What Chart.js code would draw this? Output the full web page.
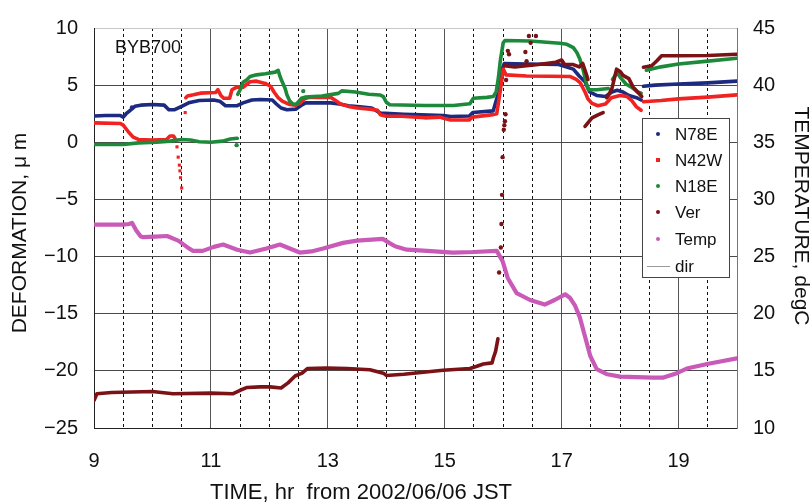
<!DOCTYPE html>
<html><head><meta charset="utf-8">
<script src="https://cdn.jsdelivr.net/npm/chart.js@4.4.1/dist/chart.umd.min.js"></script>
<style>html,body{margin:0;padding:0;background:#fff}#wrap{width:811px;height:503px}</style>
</head><body><div id="wrap"><canvas id="c" width="811" height="503"></canvas></div>
<script>
// ---------- text ----------
const chartTag = 'BYB700';
const xTitle = 'TIME, hr  from 2002/06/06 JST';
const yTitle = 'DEFORMATION, \u03bc m';
const y2Title = 'TEMPERATURE, degC';
const seriesNames = ['N78E', 'N42W', 'N18E', 'Ver', 'Temp', 'dir'];
const seriesColors = ['#1c2a80', '#f02222', '#1c8a3a', '#7a1216', '#c95ab8', '#9a9a9a'];
const xTickLabels = [9, 11, 13, 15, 17, 19];

// ---------- data: [time (hr), value] ----------
// N78E (µm)
const n78eA = [[9.0,2.3],[9.2,2.35],[9.45,2.35],[9.5,2.2],[9.55,2.5],[9.62,2.8],[9.7,3.15],[9.8,3.25],[10.0,3.3],[10.2,3.25],[10.28,2.85],[10.38,2.85],[10.5,3.15],[10.62,3.45],[10.8,3.65],[11.05,3.7],[11.15,3.6],[11.25,3.2],[11.45,3.2],[11.55,3.45],[11.7,3.7],[11.85,3.75],[12.05,3.7],[12.12,3.35],[12.2,3.0],[12.3,2.85],[12.45,2.9],[12.55,3.25],[12.62,3.45],[13.05,3.45],[13.2,3.35],[13.35,3.2],[13.55,3.1],[13.75,3.0],[13.9,2.55],[14.3,2.45],[14.6,2.4],[14.98,2.35],[15.1,2.25],[15.42,2.3],[15.48,2.6],[15.83,2.75],[15.9,4.0],[15.97,6.2],[16.02,6.9],[16.4,6.85],[16.95,6.8],[17.2,6.4],[17.3,5.8],[17.4,5.3],[17.48,4.4],[17.6,4.1],[17.75,4.0],[17.86,4.4],[17.95,4.55],[18.05,4.4],[18.15,4.1],[18.28,3.9],[18.36,3.7]];
const n78eB = [[18.4,4.9],[18.6,5.0],[19.0,5.1],[19.5,5.2],[20.0,5.35]];
const n78eDots = [[9.65,3.05]];
// N42W (µm)
const n42wA = [[9.0,1.7],[9.45,1.65],[9.5,1.5],[9.59,0.9],[9.67,0.45],[9.76,0.25],[10.0,0.2],[10.24,0.25],[10.3,0.55],[10.36,0.55],[10.4,0.2]];
const n42wB = [[10.57,3.9],[10.6,4.05],[10.7,4.15],[10.82,4.3],[11.08,4.35],[11.12,4.6],[11.17,4.1],[11.22,3.85],[11.32,3.85],[11.36,4.6],[11.45,4.85],[11.55,4.8],[11.62,5.1],[11.67,5.3],[11.78,5.35],[11.93,5.15],[12.02,4.9],[12.08,4.4],[12.15,3.9],[12.22,3.6],[12.35,3.3],[12.45,3.25],[12.52,3.4],[12.6,3.8],[12.68,3.93],[13.05,3.93],[13.12,3.7],[13.21,3.37],[13.35,3.14],[13.5,3.0],[13.72,2.9],[13.85,2.8],[13.9,2.4],[14.0,2.28],[14.26,2.28],[14.66,2.14],[14.92,2.2],[14.98,2.1],[15.1,1.95],[15.42,1.95],[15.47,2.2],[15.83,2.42],[15.89,2.5],[15.95,4.5],[16.0,6.4],[16.05,5.9],[16.4,5.8],[17.15,5.75],[17.25,5.5],[17.32,5.2],[17.4,4.4],[17.45,3.8],[17.52,3.4],[17.62,3.2],[17.75,3.35],[17.85,3.9],[18.0,4.1],[18.12,4.0],[18.2,3.65],[18.28,3.1],[18.36,2.8]];
const n42wC = [[18.4,3.55],[18.7,3.65],[19.0,3.8],[19.5,3.95],[20.0,4.15]];
const n42wDots = [[10.42,-0.4],[10.44,-1.3],[10.46,-2.0],[10.47,-2.5],[10.48,-3.1],[10.5,-4.0],[10.56,2.6]];
// N18E (µm)
const n18eA = [[9.0,-0.2],[9.5,-0.2],[9.76,-0.05],[10.07,0.0],[10.3,0.1],[10.5,0.25],[10.65,0.2],[10.8,0.05],[11.0,0.0],[11.2,0.1],[11.33,0.28],[11.45,0.35]];
const n18eB = [[11.46,4.2],[11.5,4.6],[11.55,5.25],[11.61,5.45],[11.67,5.75],[11.78,5.9],[11.93,6.0],[12.1,6.14],[12.15,6.3],[12.18,5.8],[12.21,5.4],[12.27,4.7],[12.3,4.15],[12.35,3.6],[12.41,3.3],[12.47,3.37],[12.55,3.85],[12.61,3.95],[12.9,4.05],[13.18,4.28],[13.24,4.5],[13.47,4.4],[13.7,4.2],[13.89,4.14],[13.95,4.0],[14.0,3.5],[14.06,3.28],[14.66,3.22],[15.15,3.22],[15.43,3.37],[15.49,3.85],[15.72,3.93],[15.83,4.0],[15.88,4.4],[15.92,5.7],[15.95,7.1],[16.0,8.7],[16.03,8.9],[16.46,8.86],[16.97,8.66],[17.09,8.57],[17.2,8.28],[17.26,7.86],[17.31,7.3],[17.37,6.3],[17.42,5.2],[17.46,4.6],[17.6,4.6],[17.8,4.7]];
const n18eC = [[17.87,5.5],[17.95,6.1],[18.0,5.7],[18.1,5.1],[18.2,4.8],[18.3,4.4],[18.36,4.3]];
const n18eD = [[18.45,6.3],[18.7,6.6],[19.0,6.85],[19.5,7.1],[20.0,7.35]];
const n18eDots = [[11.44,-0.25],[12.58,4.48]];
// Ver (µm)
const verA = [[9.0,-22.6],[9.05,-22.0],[9.3,-21.9],[10.0,-21.8],[10.35,-22.0],[11.0,-21.95],[11.38,-22.0],[11.5,-21.7],[11.62,-21.45],[11.84,-21.4],[12.01,-21.4],[12.2,-21.5],[12.32,-21.05],[12.44,-20.45],[12.56,-20.2],[12.65,-19.8],[12.98,-19.75],[13.33,-19.8],[13.72,-19.9],[13.95,-20.2],[14.0,-20.4],[14.3,-20.3],[14.97,-19.95],[15.43,-19.8],[15.55,-19.6],[15.66,-19.4],[15.81,-19.3],[15.83,-18.9],[15.87,-18.3],[15.91,-17.2]];
const verB = [[16.02,6.7],[16.2,6.6],[16.4,6.7],[16.6,6.8],[16.9,7.0],[17.0,7.2],[17.05,6.8],[17.2,6.8],[17.3,6.6],[17.36,6.9],[17.42,6.0],[17.45,5.5]];
const verC = [[17.4,1.4],[17.52,2.14],[17.63,2.42],[17.71,2.6]];
const verD = [[17.77,3.9],[17.8,4.1],[17.86,4.7],[17.94,6.4],[18.0,6.2],[18.05,5.86],[18.15,5.57],[18.22,4.85],[18.3,4.4],[18.37,4.0]];
const verE = [[18.4,6.57],[18.54,6.7],[18.63,7.14],[18.71,7.57],[18.94,7.57],[19.5,7.6],[20.0,7.7]];
const verDots = [[15.93,-11.4],[15.96,-9.2],[15.97,-7.15],[15.98,-4.6],[15.99,-1.3],[16.01,1.1],[16.02,1.5],[16.03,1.85],[16.04,2.45],[16.05,5.45],[16.08,8.0],[16.1,7.7],[16.38,7.9],[16.4,7.1],[16.44,9.3],[16.47,8.7],[16.56,9.3]];
// Temp (degC)
const tempA = [[9.0,27.8],[9.5,27.8],[9.6,27.85],[9.65,27.95],[9.72,27.3],[9.8,26.75],[9.84,26.7],[10.05,26.75],[10.25,26.8],[10.44,26.4],[10.6,25.8],[10.69,25.5],[10.86,25.5],[11.05,25.85],[11.21,26.05],[11.45,25.6],[11.67,25.35],[11.95,25.7],[12.18,26.05],[12.35,25.7],[12.52,25.35],[12.72,25.45],[12.92,25.7],[13.26,26.2],[13.5,26.4],[13.94,26.55],[14.05,26.2],[14.15,25.9],[14.35,25.6],[14.7,25.5],[15.14,25.35],[15.5,25.4],[15.89,25.5],[15.99,24.6],[16.08,23.1],[16.23,21.8],[16.46,21.2],[16.71,20.8],[16.88,21.2],[17.06,21.7],[17.14,21.4],[17.23,20.7],[17.31,19.7],[17.4,18.0],[17.49,16.3],[17.6,15.15],[17.78,14.7],[18.0,14.5],[18.56,14.4],[18.73,14.4],[18.97,14.8],[19.14,15.2],[19.49,15.6],[20.0,16.1]];

// ---------- build datasets ----------
const toXY = arr => arr.map(p => ({x: p[0], y: p[1]}));
function lineSet(name, idx, arr, axis, order, width) {
  return {label: name, data: toXY(arr), yAxisID: axis, showLine: true, borderColor: seriesColors[idx],
    backgroundColor: seriesColors[idx], borderWidth: width, pointRadius: 0, pointHoverRadius: 0,
    tension: 0, order: order, borderCapStyle: 'round', borderJoinStyle: 'round'};
}
function dotSet(name, idx, arr, axis, order, style) {
  return {label: name, data: toXY(arr), yAxisID: axis, showLine: false, borderColor: seriesColors[idx],
    backgroundColor: seriesColors[idx], pointRadius: 2.2, pointStyle: style || 'circle', borderWidth: 0, order: order};
}
const datasets = [
  lineSet('N78E', 0, n78eA, 'y', 5, 3.6), lineSet('N78E', 0, n78eB, 'y', 5, 3.6), dotSet('N78E', 0, n78eDots, 'y', 5),
  lineSet('N42W', 1, n42wA, 'y', 4, 3.6), lineSet('N42W', 1, n42wB, 'y', 4, 3.6), lineSet('N42W', 1, n42wC, 'y', 4, 3.6), dotSet('N42W', 1, n42wDots, 'y', 4, 'rect'),
  lineSet('N18E', 2, n18eA, 'y', 3, 3.6), lineSet('N18E', 2, n18eB, 'y', 3, 3.6), lineSet('N18E', 2, n18eC, 'y', 3, 3.6), lineSet('N18E', 2, n18eD, 'y', 3, 3.6), dotSet('N18E', 2, n18eDots, 'y', 3),
  lineSet('Ver', 3, verA, 'y', 2, 3.6), lineSet('Ver', 3, verB, 'y', 2, 3.6), lineSet('Ver', 3, verC, 'y', 2, 3.6), lineSet('Ver', 3, verD, 'y', 2, 3.6), lineSet('Ver', 3, verE, 'y', 2, 3.6), dotSet('Ver', 3, verDots, 'y', 2),
  lineSet('Temp', 4, tempA, 'y2', 1, 4.2),
  {label: 'dir', data: [], yAxisID: 'y', showLine: true, borderColor: seriesColors[5], borderWidth: 1, pointRadius: 0, order: 6}
];

const FONT = '"Liberation Sans", Arial, sans-serif';
const isOddHour = v => Number.isInteger(v) && Math.abs(v % 2) === 1;

const overlay = {
  id: 'overlay',
  afterDraw(chart) {
    const ctx = chart.ctx;
    ctx.save();
    ctx.fillStyle = '#111';
    // tag
    ctx.font = '18px ' + FONT;
    ctx.textAlign = 'left'; ctx.textBaseline = 'middle';
    ctx.fillText(chartTag, 115, 48);
    // axis titles
    ctx.textAlign = 'center';
    ctx.font = '22px ' + FONT;
    ctx.fillText(xTitle, 361, 493);
    ctx.save(); ctx.translate(20, 233); ctx.rotate(-Math.PI / 2);
    ctx.font = '21px ' + FONT; ctx.fillText(yTitle, 0, 0); ctx.restore();
    ctx.save(); ctx.translate(801, 216); ctx.rotate(Math.PI / 2);
    ctx.font = '21px ' + FONT; ctx.fillText(y2Title, 0, 0); ctx.restore();
    // legend
    const bx = 642, by = 118, bw = 87, bh = 159;
    ctx.fillStyle = '#fff'; ctx.fillRect(bx, by, bw, bh);
    ctx.strokeStyle = '#444'; ctx.lineWidth = 1; ctx.strokeRect(bx + 0.5, by + 0.5, bw, bh);
    const rows = [134, 160, 186, 212, 239, 266];
    ctx.font = '17px ' + FONT; ctx.textAlign = 'left'; ctx.textBaseline = 'middle';
    seriesNames.forEach((name, i) => {
      const y = rows[i];
      ctx.fillStyle = seriesColors[i]; ctx.strokeStyle = seriesColors[i];
      if (name === 'dir') {
        ctx.lineWidth = 1; ctx.beginPath(); ctx.moveTo(647, y + 0.5); ctx.lineTo(670, y + 0.5); ctx.stroke();
      } else if (name === 'N42W') {
        ctx.fillRect(656, y - 2, 4, 4);
      } else {
        ctx.beginPath(); ctx.arc(658, y, 2, 0, Math.PI * 2); ctx.fill();
      }
      ctx.fillStyle = '#111';
      ctx.fillText(name, 675, y + 1);
    });
    ctx.restore();
  }
};

new Chart(document.getElementById('c'), {
  type: 'scatter',
  data: {datasets},
  plugins: [overlay],
  options: {
    responsive: false, animation: false, devicePixelRatio: 1,
    layout: {padding: {top: 20, left: 0, right: 0, bottom: 0}},
    plugins: {legend: {display: false}, tooltip: {enabled: false}, title: {display: false}},
    scales: {
      x: {
        type: 'linear', position: 'bottom', min: 9, max: 20,
        afterFit: s => { s.height = 75; },
        ticks: {stepSize: 0.5, autoSkip: false, maxRotation: 0, padding: 21, color: '#111',
          font: {family: FONT, size: 20},
          callback: v => xTickLabels.includes(v) ? String(v) : ''},
        grid: {drawTicks: false, lineWidth: 1,
          color: c => (c.tick && isOddHour(c.tick.value)) ? '#555' : '#111'},
        border: {display: true, color: '#222', width: 1,
          dash: c => (c.tick && !isOddHour(c.tick.value)) ? [3, 3] : []}
      },
      y: {
        type: 'linear', position: 'left', min: -25, max: 10,
        afterFit: s => { s.width = 94; },
        ticks: {stepSize: 5, padding: 16, color: '#111', font: {family: FONT, size: 20},
          callback: v => v < 0 ? '\u2212' + Math.abs(v) : String(v)},
        grid: {drawTicks: false, lineWidth: 1, color: c => (c.tick && c.tick.value === 10) ? '#c8c8c8' : '#4a4a4a'},
        border: {display: true, color: '#222', width: 1}
      },
      y2: {
        type: 'linear', position: 'right', min: 10, max: 45,
        afterFit: s => { s.width = 74; },
        ticks: {stepSize: 5, padding: 16, color: '#111', font: {family: FONT, size: 20}},
        grid: {drawOnChartArea: false, drawTicks: false},
        border: {display: true, color: '#777', width: 1}
      }
    }
  }
});
</script>
</body></html>
